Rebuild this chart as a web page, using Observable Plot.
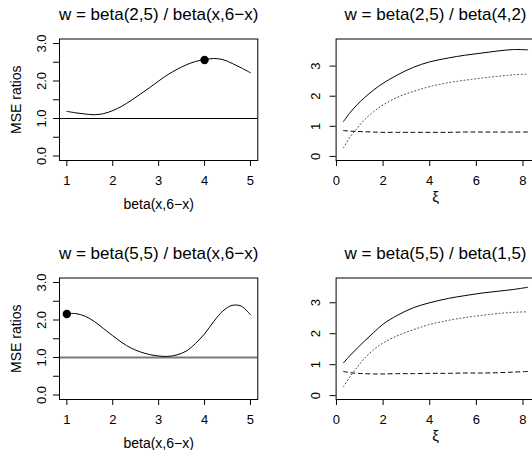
<!DOCTYPE html>
<html><head><meta charset="utf-8">
<script src="https://cdn.jsdelivr.net/npm/d3@7"></script>
<script src="https://cdn.jsdelivr.net/npm/@observablehq/plot@0.6"></script>
<style>
body{margin:0;background:#fff;}
#root{position:relative;width:532px;height:450px;overflow:hidden;background:#fff;}
#root svg{position:absolute;overflow:visible;}
</style></head><body><div id="root"></div>
<script>
// ---- data ----
const betaX = [1.0,1.2,1.4,1.6,1.8,2.0,2.2,2.4,2.6,2.8,3.0,3.2,3.4,3.6,3.8,4.0,4.2,4.4,4.6,4.8,5.0];
const mseTop = [1.19,1.15,1.12,1.10,1.13,1.21,1.33,1.48,1.65,1.82,2.00,2.17,2.31,2.43,2.52,2.57,2.60,2.57,2.47,2.35,2.22];
const mseBottom = [2.17,2.17,2.10,1.96,1.77,1.58,1.40,1.25,1.15,1.08,1.04,1.03,1.07,1.17,1.37,1.63,1.96,2.24,2.39,2.37,2.14];
const bestTop = {x: 4, y: 2.56};
const bestBottom = {x: 1, y: 2.16};

const xi = [0.3,0.6,0.9,1.2,1.6,2.0,2.6,3.3,4.0,4.8,5.5,6.2,6.9,7.6,8.2];
const trSolid  = [1.16,1.47,1.73,1.95,2.21,2.43,2.70,2.96,3.14,3.27,3.36,3.43,3.50,3.55,3.54];
const trDotted = [0.29,0.66,0.95,1.22,1.49,1.71,1.96,2.16,2.32,2.45,2.53,2.60,2.66,2.71,2.73];
const trDashed = [0.86,0.84,0.83,0.82,0.81,0.80,0.80,0.80,0.80,0.80,0.81,0.81,0.81,0.81,0.81];
const brSolid  = [1.06,1.31,1.54,1.76,2.04,2.31,2.59,2.84,3.00,3.14,3.23,3.31,3.37,3.43,3.50];
const brDotted = [0.29,0.63,0.93,1.20,1.49,1.70,1.93,2.13,2.30,2.43,2.52,2.59,2.65,2.69,2.71];
const brDashed = [0.78,0.74,0.72,0.71,0.70,0.70,0.71,0.71,0.72,0.72,0.73,0.73,0.74,0.76,0.78];

const titles = ["w = beta(2,5) / beta(x,6\u2212x)", "w = beta(2,5) / beta(4,2)",
                "w = beta(5,5) / beta(x,6\u2212x)", "w = beta(5,5) / beta(1,5)"];
const betaLabel = "beta(x,6\u2212x)";
const xiLabel = "\u03be";
const yTitle = "MSE ratios";
const leftXTicks = [1,2,3,4,5];
const leftYTicks = [0,0.5,1,1.5,2,2.5,3];
const leftYLabels = [{v:0,t:"0.0"},{v:1,t:"1.0"},{v:2,t:"2.0"},{v:3,t:"3.0"}];
const rightXTicks = [0,2,4,6,8];
const rightYTicks = [0,1,2,3];
const rightYLabels = [{v:0,t:"0"},{v:1,t:"1"},{v:2,t:"2"},{v:3,t:"3"}];

// ---- drawing ----
const FONT = "'Liberation Sans', Arial, Helvetica, sans-serif";
const root = document.getElementById("root");
const zip = (xs, ys) => xs.map((x, i) => ({x, y: ys[i]}));

function panel(o) {
  const svg = Plot.plot({
    width: o.width, height: 239,
    marginLeft: o.ml, marginRight: o.mr, marginTop: 38.5, marginBottom: 79,
    inset: 0,
    x: {domain: o.xDomain}, y: {domain: o.yDomain},
    style: {fontFamily: FONT, fontSize: "13px", color: "#000", background: "transparent", overflow: "visible"},
    marks: [
      ...o.marks,
      Plot.frame({stroke: "#000", strokeWidth: 1}),
      Plot.axisX(o.xTicks, {tickSize: 6, tickPadding: 9, fontSize: 13, label: null}),
      Plot.axisY(o.yTicks, {tickSize: 6, tickFormat: () => "", label: null}),
      Plot.text(o.yLabels, {y: d => d.v, text: d => d.t, frameAnchor: "left", rotate: -90,
        dx: o.yLabDx, lineAnchor: "bottom", textAnchor: "middle", fontSize: 13}),
      Plot.text([o.title], {frameAnchor: "top", dy: -19.2, lineAnchor: "bottom", fontSize: 17}),
      Plot.text([o.xLabel], {frameAnchor: "bottom", dy: o.xLabDy, lineAnchor: "bottom", fontSize: o.xLabSize}),
      o.yLabel ? Plot.text([o.yLabel], {frameAnchor: "left", dx: -39, rotate: -90, lineAnchor: "bottom",
        textAnchor: "middle", fontSize: 14}) : null
    ]
  });
  svg.style.left = o.left + "px";
  svg.style.top = o.top + "px";
  root.appendChild(svg);
}

const leftCommon = {left: 0, width: 266, ml: 59, mr: 8.7, xDomain: [0.84, 5.16], yDomain: [-0.12, 3.12],
  xTicks: leftXTicks, yTicks: leftYTicks, yLabels: leftYLabels, yLabDx: -13.5,
  xLabel: betaLabel, xLabDy: 48.3, xLabSize: 14, yLabel: yTitle};
const rightCommon = {left: 266, width: 278.5, ml: 69.6, mr: 10, xDomain: [-0.016, 8.516],
  xTicks: rightXTicks, yTicks: rightYTicks, yLabels: rightYLabels, yLabDx: -16,
  xLabel: xiLabel, xLabDy: 41, xLabSize: 15, yLabel: null};

function rightMarks(s, dt, da) {
  return [
    Plot.line(zip(xi, s), {x: "x", y: "y", stroke: "#000", strokeWidth: 1, curve: "catmull-rom"}),
    Plot.line(zip(xi, dt), {x: "x", y: "y", stroke: "#444", strokeWidth: 1, strokeDasharray: "1,2.6", curve: "catmull-rom"}),
    Plot.line(zip(xi, da), {x: "x", y: "y", stroke: "#000", strokeWidth: 1, strokeDasharray: "4,3.5", curve: "catmull-rom"})
  ];
}

panel({...leftCommon, top: 0, title: titles[0], marks: [
  Plot.ruleY([1], {stroke: "#000", strokeWidth: 1}),
  Plot.line(zip(betaX, mseTop), {x: "x", y: "y", stroke: "#000", strokeWidth: 1, curve: "catmull-rom"}),
  Plot.dot([bestTop], {x: "x", y: "y", r: 4.2, fill: "#000", stroke: null})
]});
panel({...rightCommon, top: 0, title: titles[1], yDomain: [-0.135, 3.9],
  marks: rightMarks(trSolid, trDotted, trDashed)});
panel({...leftCommon, top: 239, title: titles[2], marks: [
  Plot.ruleY([1], {stroke: "#7a7a7a", strokeWidth: 2}),
  Plot.line(zip(betaX, mseBottom), {x: "x", y: "y", stroke: "#000", strokeWidth: 1, curve: "catmull-rom"}),
  Plot.dot([bestBottom], {x: "x", y: "y", r: 4.2, fill: "#000", stroke: null})
]});
panel({...rightCommon, top: 239, title: titles[3], yDomain: [-0.125, 3.8],
  marks: rightMarks(brSolid, brDotted, brDashed)});
</script>
</body></html>
